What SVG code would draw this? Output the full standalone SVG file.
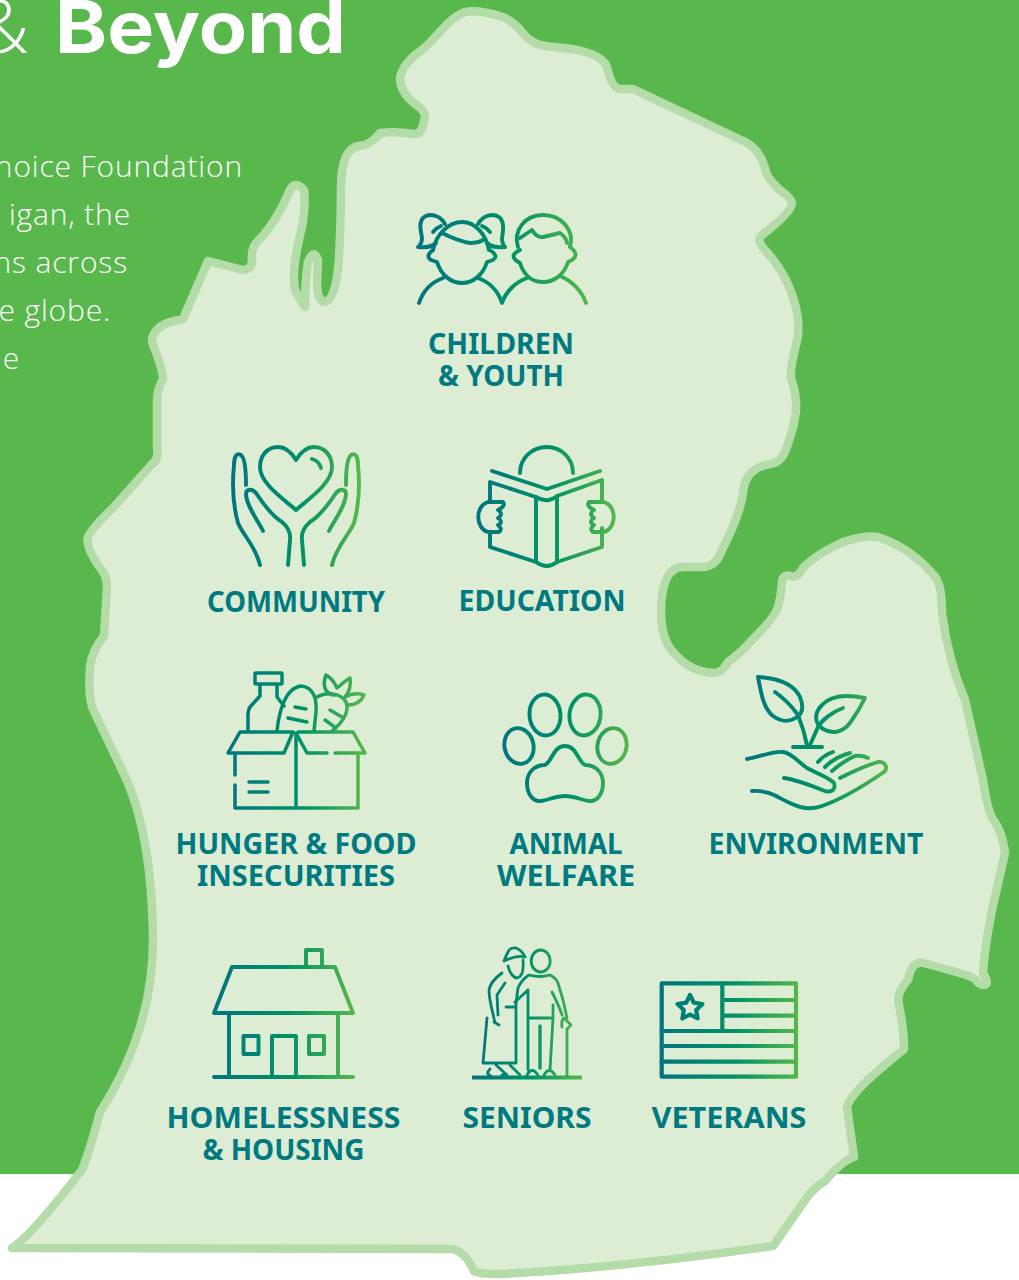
<svg xmlns="http://www.w3.org/2000/svg" xmlns:xlink="http://www.w3.org/1999/xlink" width="1019" height="1280" viewBox="0 0 1019 1280">
<style>
.lb{font-family:"Noto Sans","Open Sans",sans-serif;font-weight:700;font-size:28px;fill:#007a80;text-anchor:middle}
.bd{font-family:"Open Sans","Noto Sans",sans-serif;font-weight:300;font-size:30px;fill:#fff;text-anchor:end;letter-spacing:.85px}
.i{fill:none;stroke-width:3.9;stroke-linecap:round;stroke-linejoin:round}
</style>
<defs>
<linearGradient id="g"><stop offset="0" stop-color="#007480"/><stop offset=".55" stop-color="#009266"/><stop offset="1" stop-color="#55b848"/></linearGradient>
<linearGradient id="g1" xlink:href="#g" gradientUnits="userSpaceOnUse" x1="418" y1="0" x2="588" y2="0"/>
<linearGradient id="g2" xlink:href="#g" gradientUnits="userSpaceOnUse" x1="232" y1="0" x2="360" y2="0"/>
<linearGradient id="g3" xlink:href="#g" gradientUnits="userSpaceOnUse" x1="477" y1="0" x2="615" y2="0"/>
<linearGradient id="g4" xlink:href="#g" gradientUnits="userSpaceOnUse" x1="228" y1="0" x2="365" y2="0"/>
<linearGradient id="g5" xlink:href="#g" gradientUnits="userSpaceOnUse" x1="503" y1="0" x2="628" y2="0"/>
<linearGradient id="g6" xlink:href="#g" gradientUnits="userSpaceOnUse" x1="745" y1="0" x2="888" y2="0"/>
<linearGradient id="g7" xlink:href="#g" gradientUnits="userSpaceOnUse" x1="213" y1="0" x2="354" y2="0"/>
<linearGradient id="g8" xlink:href="#g" gradientUnits="userSpaceOnUse" x1="472" y1="0" x2="582" y2="0"/>
<linearGradient id="g9" xlink:href="#g" gradientUnits="userSpaceOnUse" x1="660" y1="0" x2="798" y2="0"/>
</defs>
<rect width="1019" height="1174" fill="#58b84c"/>
<rect y="1174" width="1019" height="106" fill="#fff"/>
<g id="heading">
<text x="29" y="53" text-anchor="end" font-family="'Open Sans',sans-serif" font-weight="300" font-size="74" fill="#fff">&amp;</text>
<text x="55" y="53" font-family="Inter,'Open Sans',sans-serif" font-weight="700" font-size="73" fill="#fff" textLength="291" lengthAdjust="spacingAndGlyphs">Beyond</text>
</g>
<g id="body-text">
<text class="bd" x="243" y="177">hoice Foundation</text>
<text class="bd" x="131" y="225">igan, the</text>
<text class="bd" x="128" y="273">ns across</text>
<text class="bd" x="111" y="321">e globe.</text>
<text class="bd" x="20" y="369">e</text>
</g>
<path id="michigan" fill="#ddedd4" stroke="#b4dca8" stroke-width="8.500" stroke-linejoin="round" stroke-linecap="round" d="M400,78C402,68 410,58 423,49C436,39 448,18 465,12Q477,9 503,17Q515,23 522,32Q532,46 553,47Q600,50 607,67Q611,87 620,89L633,89L741,140Q759,147 765,168Q766,178 780,190Q791,198 792,203Q792,212 762,235Q756,240 764,249Q784,270 793,297Q802,325 796,345Q790,368 791,378Q797,395 796,410Q795,425 785,452Q780,463 770,464Q745,468 743,493Q740,515 722,550Q716,568 700,567L683,567Q662,567 661,610Q661,640 674,653Q690,672 714,673Q722,673 728,662Q742,652 752,640Q778,615 779,603Q781,595 782,582Q783,574 790,576Q797,579 803,568Q815,555 843,542Q865,535 878,537Q912,548 936,578Q942,587 942,613Q948,660 965,700L983,780Q988,815 995,822Q1003,835 1005,853L992,910Q985,945 983,973Q990,985 984,985Q979,985 975,979Q970,975 923,963Q912,960 908,980Q896,992 899,1005Q904,1030 904,1049L880,1069Q850,1095 847,1107L854,1157Q843,1160 825,1181Q815,1187 808,1196L773,1246Q620,1268 500,1274Q478,1274 474,1271Q464,1249 450,1249L12,1248Q30,1237 82,1170Q90,1150 100,1112Q153,1030 153,940Q152,830 122,770L92,707Q88,690 90,667Q92,650 104,636L107,586Q107,575 98,565Q85,545 88,537Q92,528 113,508L152,464Q159,460 157,447L157,400Q157,390 163,379Q163,370 152,342Q152,324 183,319L208,261L243,270Q251,270 252,261Q251,250 256,243Q275,225 290,190Q295,180 304,190Q306,205 302,227Q290,275 296,292L305,307Q305,280 308,262Q314,248 318,260L317,285Q318,302 325,302Q336,300 339,258Q341,220 341,187Q341,150 358,146Q370,146 380,133Q396,131 414,134Q421,135 423,125L425,117Q425,110 415,104Q400,92 400,78Z"/>

<g id="children-youth">
<g class="i" stroke="url(#g1)">
<path d="M419,303C423,291 432,282 443,278M478,278C489,282 498,291 502,303C506,291 516,282 527,278M560,276C572,281 582,291 586,303"/>
<path d="M433,250Q425,256 431,260L437,262C441,275 451,283 462,283C473,283 483,275 487,262L493,260Q499,256 490,250"/>
<path d="M433,250C436,235 448,222 462,222C476,222 486,235 489,250"/>
<path d="M442,233C450,237 458,241 470,243Q478,243 483,240"/>
<path d="M445,224C440,215 430,213 424,217C418,222 421,231 422,238Q422,244 418,247C426,248 433,246 436,243M433,232Q436,228 441,226"/>
<path d="M478,224C483,215 493,213 499,217C505,222 503,231 502,238Q502,244 505,247C497,248 490,246 487,243M490,232Q487,228 482,226"/>
<path d="M520,250Q507,256 520,263C524,276 533,282 543,282C554,282 564,275 568,262Q582,256 570,247"/>
<path d="M518,247C513,230 525,215 543,215C561,215 575,230 570,247"/>
<path d="M520,238L532,230Q537,238 543,237L560,233Q566,237 567,243"/>
</g>
<text class="lb" x="501" y="354" textLength="146" lengthAdjust="spacingAndGlyphs">CHILDREN</text>
<text class="lb" x="501" y="386" textLength="126" lengthAdjust="spacingAndGlyphs">&amp; YOUTH</text>
</g>

<g id="community">
<g class="i" stroke="url(#g2)">
<path d="M296,460C290,450 283,447 278,447C267,447 260,456 260,467C260,483 282,498 296,510C310,498 332,483 332,467C332,456 325,447 314,447C309,447 302,450 296,460Z"/>
<path d="M312,459Q319,461 321,468"/>
<path d="M246,485C246,470 245,458 241,455C236,452 234,458 234,465C232,485 233,505 238,523C243,535 256,547 260,565"/>
<path d="M263,531C258,521 246,505 246,494C246,489 252,488 256,493C264,505 272,516 282,522C288,527 291,532 290,540L288,565"/>
<path d="M346,485C346,470 347,458 351,455C356,452 358,458 358,465C360,485 359,505 354,523C349,535 336,547 332,565"/>
<path d="M329,531C334,521 346,505 346,494C346,489 340,488 336,493C328,505 320,516 310,522C304,527 301,532 302,540L304,565"/>
</g>
<text class="lb" x="296" y="612" textLength="178" lengthAdjust="spacingAndGlyphs">COMMUNITY</text>
</g>

<g id="education">
<g class="i" stroke="url(#g3)">
<path d="M520,473C520,458 532,447 547,447C561,447 573,458 573,473"/>
<path d="M492,471L547,489L600,471"/>
<path d="M490,500V482L536,497Q547,504 557,496L602,480V500M490,532V547L536,562Q547,570 557,562L602,547V528"/>
<path d="M536,497V562M557,496V562"/>
<path d="M503,502H488C475,506 475,528 488,532H499Q503,529 498,525Q504,522 498,518Q504,514 498,510Q506,506 503,502Z"/>
<path d="M589,502H604C617,506 617,528 604,532H593Q589,529 594,525Q588,522 594,518Q588,514 594,510Q586,506 589,502Z"/>
</g>
<text class="lb" x="542" y="611" textLength="167" lengthAdjust="spacingAndGlyphs">EDUCATION</text>
</g>

<g id="hunger-food">
<g class="i" stroke="url(#g4)" style="stroke-width:3.5">
<rect x="255" y="673" width="27" height="11" rx="1"/>
<path d="M260,685V696L250,707Q248,710 248,716V731M277,685V697L284,706"/>
<path d="M277,731C279,712 285,688 301,686C314,687 317,700 316,712L314,731"/>
<path d="M295,707L306,709M288,718L307,722"/>
<path d="M317,697C325,692 340,692 346,702C350,712 342,723 332,731"/>
<path d="M330,710L342,717M325,720L336,728"/>
<path d="M335,695C325,695 322,685 326,675C331,678 335,683 337,688C342,684 346,680 350,678C351,684 350,691 345,697C352,693 358,693 364,695C361,702 355,705 348,705"/>
<path d="M240,732H293L284,753H228ZM298,732H353L365,753H335M327,753H307L296,733"/>
<path d="M235,755V775M235,785V808H358V755M296,735V808"/>
<path d="M249,782H268M249,792H268"/>
</g>
<text class="lb" x="296" y="854" textLength="241" lengthAdjust="spacingAndGlyphs">HUNGER &amp; FOOD</text>
<text class="lb" x="296" y="886" textLength="198" lengthAdjust="spacingAndGlyphs">INSECURITIES</text>
</g>

<g id="animal-welfare">
<g class="i" stroke="url(#g5)">
<ellipse cx="519" cy="746" rx="14.500" ry="18" transform="rotate(-12 519 746)"/>
<ellipse cx="545" cy="715" rx="15.500" ry="20.500" transform="rotate(-5 545 715)"/>
<ellipse cx="585" cy="715" rx="15.500" ry="20.500" transform="rotate(7 585 715)"/>
<ellipse cx="612" cy="746" rx="14.500" ry="18" transform="rotate(12 612 746)"/>
<path d="M545,765C552,762 553,746 565,746C577,746 578,762 585,765C596,765 603,773 603,783C603,794 597,802 589,801C581,800 575,796 565,796C555,796 549,800 541,801C533,802 527,794 527,783C527,773 534,765 545,765Z"/>
</g>
<text class="lb" x="566" y="854" textLength="113" lengthAdjust="spacingAndGlyphs">ANIMAL</text>
<text class="lb" x="566" y="886" textLength="138" lengthAdjust="spacingAndGlyphs">WELFARE</text>
</g>

<g id="environment">
<g class="i" stroke="url(#g6)">
<path d="M758,677C775,678 793,683 800,697C804,707 803,713 797,717C789,723 780,721 773,716C763,708 761,692 758,677Z"/>
<path d="M775,692C785,699 793,708 798,715C802,725 805,735 807,745"/>
<path d="M865,698C850,695 832,694 822,705C813,714 815,724 823,729C835,736 846,730 852,720C857,713 861,706 865,698Z"/>
<path d="M843,708C832,712 822,720 818,727L810,745"/>
<path d="M793,747H822"/>
<path d="M747,759C760,757 772,751 783,752C792,753 798,762 807,768C816,773 830,778 834,783C836,789 832,793 825,791C812,786 798,780 784,778"/>
<path d="M752,791C770,790 778,798 790,803C800,808 812,810 822,806C845,798 868,783 884,772C889,767 884,761 878,762C865,766 852,772 840,778"/>
<path d="M818,762Q824,755 833,752M825,767Q835,757 850,753M832,771Q845,760 855,756Q862,755 868,758"/>
</g>
<text class="lb" x="816" y="854" textLength="215" lengthAdjust="spacingAndGlyphs">ENVIRONMENT</text>
</g>

<g id="homelessness-housing">
<g class="i" stroke="url(#g7)">
<path d="M232,967H335L353,1013H214Z"/>
<path d="M306,967V950H322V967"/>
<path d="M229,1013V1077M338,1013V1077M214,1077H353"/>
<rect x="243.500" y="1036" width="15" height="18"/>
<rect x="309" y="1036" width="15" height="18"/>
<path d="M272,1077V1036H296V1077"/>
</g>
<text class="lb" x="283.500" y="1128" textLength="234" lengthAdjust="spacingAndGlyphs">HOMELESSNESS</text>
<text class="lb" x="283.500" y="1160" textLength="162" lengthAdjust="spacingAndGlyphs">&amp; HOUSING</text>
</g>

<g id="seniors">
<g class="i" stroke="url(#g8)" style="stroke-width:2.800">
<path d="M472,1077.500H582" style="stroke-width:4;stroke-linecap:butt"/>
<ellipse cx="540.700" cy="961" rx="9.500" ry="11"/>
<path d="M516,1003L518,988Q522,979 529,975Q540,978 550,975Q556,978 558,983C562,995 565,1007 567,1018"/>
<path d="M552,992C556,1000 560,1008 562,1015M562,1027Q561,1020 564,1018L571,1025L567,1029V1076"/>
<path d="M528,990V1018L528,1070M553,1005V1018L550,1070M528,1018H553M515,1002L528,990M506,1007H515"/>
<path d="M540,1026V1068" style="stroke-width:3.400"/>
<path d="M527,1075Q532,1066 538,1075M544,1075Q549,1066 555,1075"/>
<path d="M504,961C508,959 518,955 525,957Q522,950 516,948Q510,947 508,952Q506,956 504,961Z"/>
<path d="M508,966C510,974 514,978 517,978C522,977 524,972 523,960"/>
<path d="M502,973C495,978 490,984 489,990C489,998 491,1006 493,1014L495,1023M505,983L497,995L498,1015M494,1022L499,1025"/>
<path d="M487,1018L483,1063H516V1002"/>
<path d="M490,1069Q485,1074 491,1076M496,1065L507,1075H502M510,1065L520,1075"/>
</g>
<text class="lb" x="527" y="1128" textLength="129" lengthAdjust="spacingAndGlyphs">SENIORS</text>
</g>

<g id="veterans">
<g class="i" stroke="url(#g9)" style="stroke-width:4.200">
<rect x="661.700" y="983.300" width="134.300" height="93.400"/>
<path d="M722.300,983.300V1031M661.700,1031H796M722.300,1000H796M722.300,1015.700H796M661.700,1046H796M661.700,1061.700H796"/>
<path d="M690,995L693.800,1002.700L702.400,1004L696.200,1010L697.600,1018.500L690,1014.500L682.400,1018.500L683.800,1010L677.600,1004L686.200,1002.700Z"/>
</g>
<text class="lb" x="729" y="1128" textLength="155" lengthAdjust="spacingAndGlyphs">VETERANS</text>
</g>
</svg>
